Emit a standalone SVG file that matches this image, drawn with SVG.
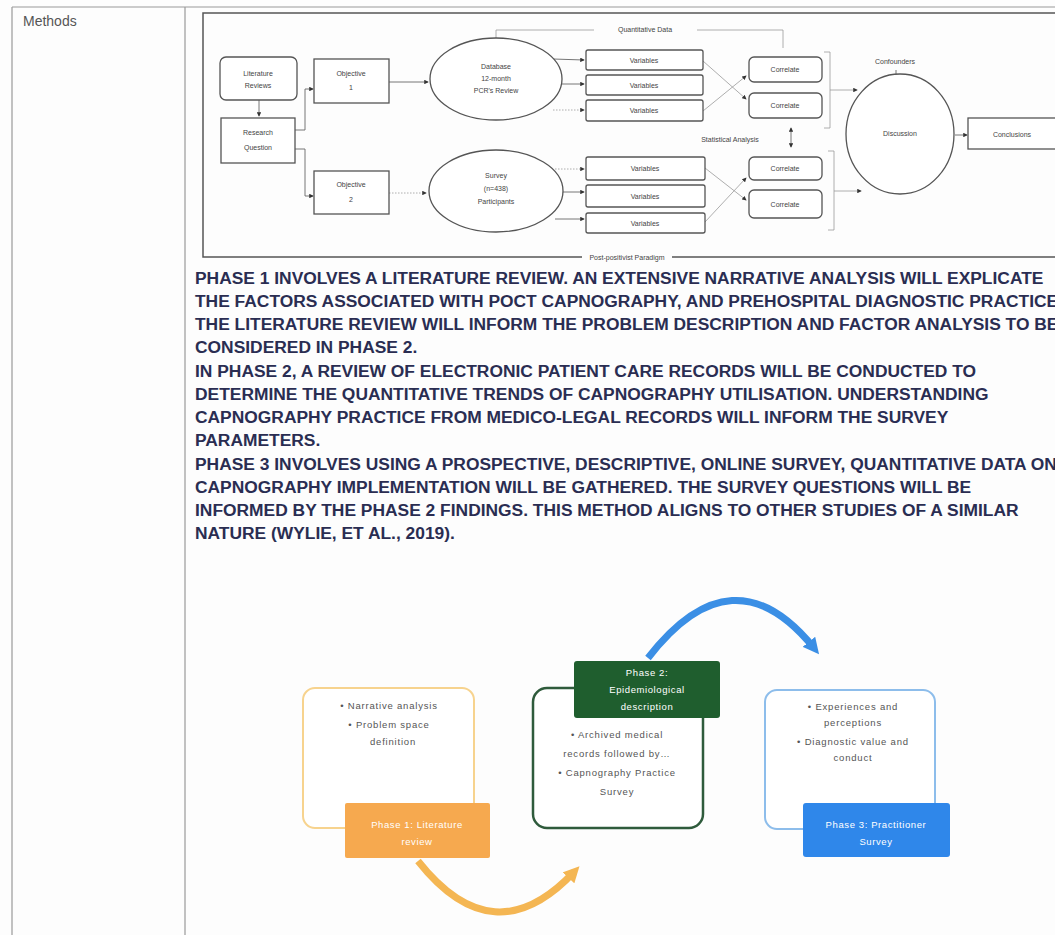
<svg xmlns="http://www.w3.org/2000/svg" width="1055" height="935" viewBox="0 0 1055 935">
<style>
.tbl{stroke:#9a9a9a;stroke-width:1.2;fill:none}
.fc{font-family:"Liberation Sans",Arial,sans-serif;font-size:7px;fill:#444;text-anchor:middle}
.box{fill:#fff;stroke:#555;stroke-width:1.3}
.ln{fill:none;stroke:#666;stroke-width:0.9}
.lnl{fill:none;stroke:#999;stroke-width:0.8}
.dot{fill:none;stroke:#999;stroke-width:0.8;stroke-dasharray:1.5 1.5}
.para{font-family:"Liberation Sans",Arial,sans-serif;font-weight:bold;font-size:17.4px;fill:#2a2d52}
.bul{font-family:"Liberation Sans",Arial,sans-serif;font-size:9.5px;fill:#555;text-anchor:middle;letter-spacing:0.8px}
.wt{font-family:"Liberation Sans",Arial,sans-serif;font-size:9.5px;fill:#fff;text-anchor:middle;letter-spacing:0.6px}
</style>
<defs>
<marker id="ar" viewBox="0 0 6 6" refX="5" refY="3" markerWidth="4.5" markerHeight="4.5" orient="auto" markerUnits="userSpaceOnUse"><path d="M0,0 L6,3 L0,6 z" fill="#333"/></marker>
<marker id="ars" viewBox="0 0 6 6" refX="1" refY="3" markerWidth="4.5" markerHeight="4.5" orient="auto" markerUnits="userSpaceOnUse"><path d="M6,0 L0,3 L6,6 z" fill="#333"/></marker>
<marker id="aro" viewBox="0 0 10 10" refX="5" refY="5" markerWidth="16" markerHeight="16" orient="auto" markerUnits="userSpaceOnUse"><path d="M0,0 L10,5 L0,10 z" fill="#f4b653"/></marker>
<marker id="arb" viewBox="0 0 10 10" refX="5" refY="5" markerWidth="16" markerHeight="16" orient="auto" markerUnits="userSpaceOnUse"><path d="M0,0 L10,5 L0,10 z" fill="#3b8fe5"/></marker>
</defs>
<rect width="1055" height="935" fill="#fdfdfd"/>
<g id="table">
<path class="tbl" d="M12,7 H1055 M12,7 V935 M185,7 V935"/>
<text x="23" y="26" font-family="Liberation Sans,Arial,sans-serif" font-size="14" fill="#555">Methods</text>
</g>
<g id="frame">
<rect x="203" y="13" width="870" height="244" fill="none" stroke="#555" stroke-width="1.5"/>
<rect x="582" y="251" width="90" height="12" fill="#fdfdfd"/>
<text class="fc" x="627" y="260">Post-positivist Paradigm</text>
</g>
<g id="connectors">
<path class="ln" d="M259,100 V116" marker-end="url(#ar)"/>
<path class="ln" d="M295,130 H305 V89 H313" marker-end="url(#ar)"/>
<path class="ln" d="M295,149 H305 V196 H313" marker-end="url(#ar)"/>
<path class="ln" d="M389,82 H428" marker-end="url(#ar)"/>
<path class="dot" d="M389,193 H426" marker-end="url(#ar)"/>
<path class="ln" d="M553,59 L584,60" marker-end="url(#ar)"/>
<path class="ln" d="M562,84 H584" marker-end="url(#ar)"/>
<path class="dot" d="M553,110 H584" marker-end="url(#ar)"/>
<path class="dot" d="M555,169 H584" marker-end="url(#ar)"/>
<path class="ln" d="M562,192 H584" marker-end="url(#ar)"/>
<path class="ln" d="M555,219 H584" marker-end="url(#ar)"/>
<path class="lnl" d="M703,61 L746,99" marker-end="url(#ar)"/>
<path class="lnl" d="M703,111 L746,76" marker-end="url(#ar)"/>
<path class="lnl" d="M705,168 L746,200" marker-end="url(#ar)"/>
<path class="lnl" d="M705,222 L746,178" marker-end="url(#ar)"/>
<path class="lnl" d="M496,39 V30 H594 M697,30 H783 V48"/>
<text class="fc" x="645" y="32">Quantitative Data</text>
<path class="ln" d="M791,128 V147" marker-start="url(#ars)" marker-end="url(#ar)"/>
<text class="fc" x="730" y="142">Statistical Analysis</text>
<path class="lnl" d="M824,52 H830 V128 H824 M830,90 H857" marker-end="url(#ar)"/>
<path class="lnl" d="M828,151 H834 V230 H828 M834,191 H861" marker-end="url(#ar)"/>
<path class="ln" d="M896,70 V102" marker-end="url(#ar)"/>
<path class="ln" d="M955,135 H967" marker-end="url(#ar)"/>
<path d="M418,861 Q494,957 574,872" fill="none" stroke="#f4b653" stroke-width="7" marker-end="url(#aro)"/>
<path d="M648,658 Q733,548 814,648" fill="none" stroke="#3b8fe5" stroke-width="7" marker-end="url(#arb)"/>
</g>
<g id="lit"><rect class="box" x="220" y="57" width="77" height="43" rx="6"/><text class="fc" x="258" y="76">Literature</text><text class="fc" x="258" y="88">Reviews</text></g>
<g id="rq"><rect class="box" x="221" y="118" width="74" height="45"/><text class="fc" x="258" y="135">Research</text><text class="fc" x="258" y="150">Question</text></g>
<g id="obj1"><rect class="box" x="314" y="59" width="75" height="44"/><text class="fc" x="351" y="76">Objective</text><text class="fc" x="351" y="90">1</text></g>
<g id="obj2"><rect class="box" x="314" y="171" width="75" height="43"/><text class="fc" x="351" y="187">Objective</text><text class="fc" x="351" y="202">2</text></g>
<g id="db"><ellipse class="box" cx="496" cy="79" rx="66" ry="41"/><text class="fc" x="496" y="69">Database</text><text class="fc" x="496" y="81">12-month</text><text class="fc" x="496" y="93">PCR's Review</text></g>
<g id="survey"><ellipse class="box" cx="496" cy="191" rx="67" ry="41"/><text class="fc" x="496" y="178">Survey</text><text class="fc" x="496" y="191">(n=438)</text><text class="fc" x="496" y="204">Participants</text></g>
<g id="vars1">
<rect class="box" x="586" y="50" width="117" height="20" rx="2"/><text class="fc" x="644" y="63">Variables</text>
<rect class="box" x="586" y="75" width="117" height="20" rx="2"/><text class="fc" x="644" y="88">Variables</text>
<rect class="box" x="586" y="100" width="117" height="21" rx="2"/><text class="fc" x="644" y="113">Variables</text>
</g>
<g id="vars2">
<rect class="box" x="586" y="157" width="119" height="23" rx="2"/><text class="fc" x="645" y="171">Variables</text>
<rect class="box" x="586" y="185" width="119" height="22" rx="2"/><text class="fc" x="645" y="199">Variables</text>
<rect class="box" x="586" y="213" width="119" height="20" rx="2"/><text class="fc" x="645" y="226">Variables</text>
</g>
<g id="corr">
<rect class="box" x="749" y="57" width="73" height="25" rx="5"/><text class="fc" x="785" y="72">Correlate</text>
<rect class="box" x="749" y="93" width="73" height="25" rx="5"/><text class="fc" x="785" y="108">Correlate</text>
<rect class="box" x="749" y="157" width="73" height="23" rx="5"/><text class="fc" x="785" y="171">Correlate</text>
<rect class="box" x="749" y="190" width="73" height="28" rx="5"/><text class="fc" x="785" y="207">Correlate</text>
</g>
<g id="discussion"><ellipse class="box" cx="900" cy="134" rx="54" ry="60"/><text class="fc" x="900" y="136">Discussion</text><text class="fc" x="895" y="64">Confounders</text></g>
<g id="conclusions"><rect class="box" x="968" y="118" width="90" height="31"/><text class="fc" x="1012" y="137" font-size="8">Conclusions</text></g>
<g id="text" class="para">
<text x="195" y="284">PHASE 1 INVOLVES A LITERATURE REVIEW. AN EXTENSIVE NARRATIVE ANALYSIS WILL EXPLICATE</text>
<text x="195" y="307">THE FACTORS ASSOCIATED WITH POCT CAPNOGRAPHY, AND PREHOSPITAL DIAGNOSTIC PRACTICE.</text>
<text x="195" y="330">THE LITERATURE REVIEW WILL INFORM THE PROBLEM DESCRIPTION AND FACTOR ANALYSIS TO BE</text>
<text x="195" y="353">CONSIDERED IN PHASE 2.</text>
<text x="195" y="377">IN PHASE 2, A REVIEW OF ELECTRONIC PATIENT CARE RECORDS WILL BE CONDUCTED TO</text>
<text x="195" y="400">DETERMINE THE QUANTITATIVE TRENDS OF CAPNOGRAPHY UTILISATION. UNDERSTANDING</text>
<text x="195" y="423">CAPNOGRAPHY PRACTICE FROM MEDICO-LEGAL RECORDS WILL INFORM THE SURVEY</text>
<text x="195" y="446">PARAMETERS.</text>
<text x="195" y="470">PHASE 3 INVOLVES USING A PROSPECTIVE, DESCRIPTIVE, ONLINE SURVEY, QUANTITATIVE DATA ON</text>
<text x="195" y="493">CAPNOGRAPHY IMPLEMENTATION WILL BE GATHERED.  THE SURVEY QUESTIONS WILL BE</text>
<text x="195" y="516">INFORMED BY THE PHASE 2 FINDINGS. THIS METHOD ALIGNS TO OTHER STUDIES OF A SIMILAR</text>
<text x="195" y="539">NATURE (WYLIE, ET AL., 2019).</text>
</g>
<g id="phase1">
<rect x="303" y="688" width="171" height="140" rx="12" fill="#fff" stroke="#f7d38e" stroke-width="2"/>
<text class="bul" x="389" y="709">• Narrative analysis</text>
<text class="bul" x="389" y="728">• Problem space</text>
<text class="bul" x="393" y="745">definition</text>
<rect x="345" y="803" width="145" height="55" rx="2" fill="#f6a94f"/>
<text class="wt" x="417" y="828">Phase 1: Literature</text>
<text class="wt" x="417" y="845">review</text>
</g>
<g id="phase2">
<rect x="533" y="688" width="170" height="140" rx="14" fill="#fff" stroke="#2f5b3c" stroke-width="2.5"/>
<text class="bul" x="617" y="738">• Archived medical</text>
<text class="bul" x="617" y="757">records followed by…</text>
<text class="bul" x="617" y="776">• Capnography Practice</text>
<text class="bul" x="617" y="795">Survey</text>
<rect x="574" y="661" width="146" height="57" rx="3" fill="#1f5e2e"/>
<text class="wt" x="647" y="676" fill="#d6e8d6">Phase 2:</text>
<text class="wt" x="647" y="693" fill="#d6e8d6">Epidemiological</text>
<text class="wt" x="647" y="710" fill="#d6e8d6">description</text>
</g>
<g id="phase3">
<rect x="765" y="690" width="170" height="139" rx="12" fill="#fff" stroke="#8dbdeb" stroke-width="2"/>
<text class="bul" x="853" y="710">• Experiences and</text>
<text class="bul" x="853" y="726">perceptions</text>
<text class="bul" x="853" y="745">• Diagnostic value and</text>
<text class="bul" x="853" y="761">conduct</text>
<rect x="803" y="803" width="147" height="54" rx="3" fill="#2f87ea"/>
<text class="wt" x="876" y="828">Phase 3: Practitioner</text>
<text class="wt" x="876" y="845">Survey</text>
</g>
</svg>
